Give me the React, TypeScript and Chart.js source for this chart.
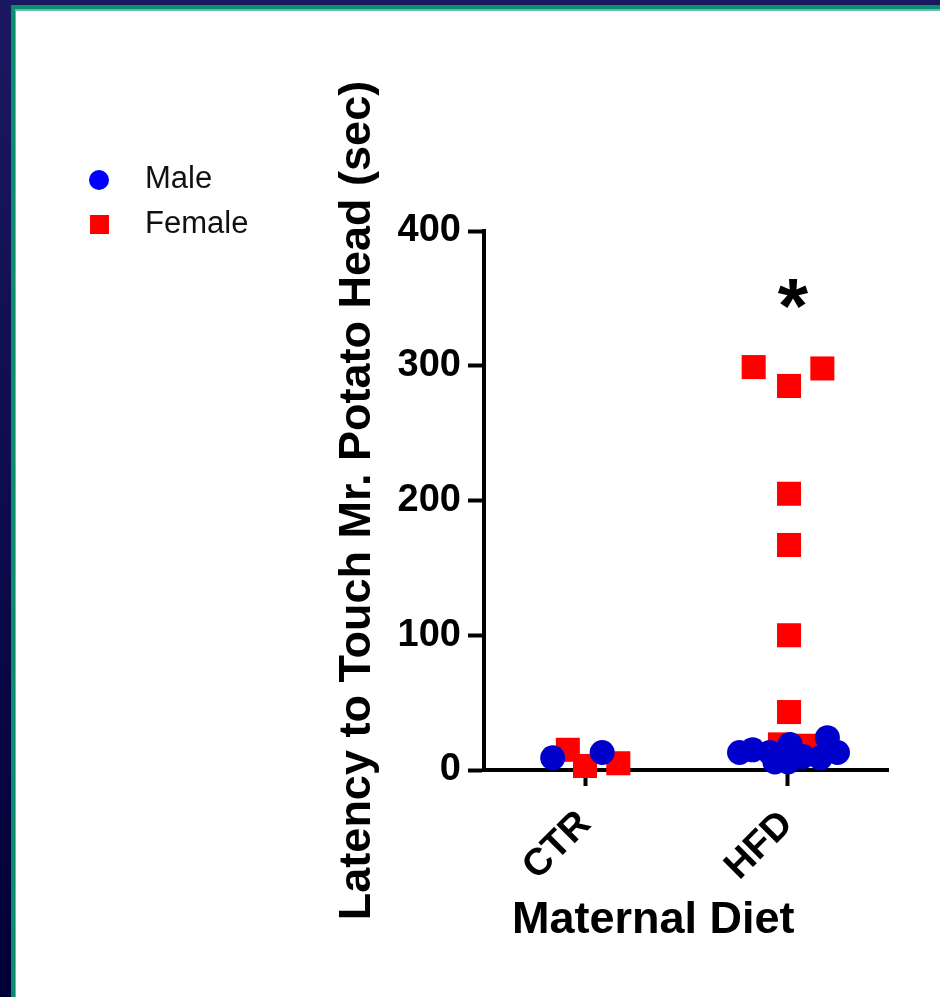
import React, { useEffect, useRef } from "react";
import { Chart, registerables } from "chart.js";

Chart.register(...registerables);

// ---- data ----
const categories = ["CTR", "HFD"];
const categoryPositions = [1, 3];
const yTicks = [0, 100, 200, 300, 400];

// Male points: category, horizontal jitter (in category units), latency (sec)
const maleCategory = ["CTR", "CTR", "HFD", "HFD", "HFD", "HFD", "HFD", "HFD", "HFD", "HFD", "HFD", "HFD"];
const maleJitter = [-0.32, 0.17, -0.47, -0.34, -0.17, -0.12, 0.03, 0.01, 0.16, 0.4, 0.5, 0.33];
const maleLatency = [9, 13, 13, 15, 13, 6, 19, 6, 10, 24, 13, 9];

// Female points
const femaleCategory = ["CTR", "CTR", "CTR", "HFD", "HFD", "HFD", "HFD", "HFD", "HFD", "HFD", "HFD", "HFD"];
const femaleJitter = [-0.17, 0.0, 0.33, -0.33, 0.02, 0.35, 0.02, 0.02, 0.02, 0.02, -0.07, 0.2];
const femaleLatency = [15, 3, 5, 299, 285, 298, 205, 167, 100, 43, 19, 18];

const legendLabels = ["Male", "Female"];
const seriesColors = ["#0000cd", "#ff0000"];
const legendColors = ["#0000ff", "#ff0000"];

const yTitle = "Latency to Touch Mr. Potato Head (sec)";
const xTitle = "Maternal Diet";
const significanceMark = "*";
const significanceCategory = "HFD";
const significanceValue = 351;

const FONT = "'Liberation Sans', Arial, Helvetica, sans-serif";

function toPoints(cats: string[], jit: number[], vals: number[]) {
  return vals.map((v, i) => ({
    x: categoryPositions[categories.indexOf(cats[i])] + jit[i],
    y: v,
  }));
}

const extrasPlugin = {
  id: "extras",
  afterDraw(chart: any) {
    const ctx = chart.ctx as CanvasRenderingContext2D;
    const xs = chart.scales.x;
    const ys = chart.scales.y;
    ctx.save();
    // x axis title
    ctx.fillStyle = "#000";
    ctx.font = `bold 45px ${FONT}`;
    ctx.textAlign = "left";
    ctx.textBaseline = "alphabetic";
    ctx.fillText(xTitle, 512, 933);
    // significance asterisk
    const ax = xs.getPixelForValue(categoryPositions[categories.indexOf(significanceCategory)]) + 6;
    const ay = ys.getPixelForValue(significanceValue);
    ctx.font = `bold 78px ${FONT}`;
    ctx.textAlign = "center";
    ctx.fillText(significanceMark, ax, ay + 36);
    // legend
    ctx.font = `31px ${FONT}`;
    ctx.textAlign = "left";
    ctx.fillStyle = legendColors[0];
    ctx.beginPath();
    ctx.arc(99, 180, 10, 0, Math.PI * 2);
    ctx.fill();
    ctx.fillStyle = legendColors[1];
    ctx.fillRect(90, 215, 19, 19);
    ctx.fillStyle = "#111";
    ctx.fillText(legendLabels[0], 145, 188);
    ctx.fillText(legendLabels[1], 145, 233);
    ctx.restore();
  },
};

export default function App() {
  const ref = useRef<HTMLCanvasElement | null>(null);

  useEffect(() => {
    if (!ref.current) return;
    const chart = new Chart(ref.current, {
      type: "scatter",
      data: {
        datasets: [
          {
            label: legendLabels[0],
            data: toPoints(maleCategory, maleJitter, maleLatency),
            pointStyle: "circle",
            pointRadius: 12.5,
            pointBackgroundColor: seriesColors[0],
            pointBorderWidth: 0,
            backgroundColor: seriesColors[0],
            clip: false,
          },
          {
            label: legendLabels[1],
            data: toPoints(femaleCategory, femaleJitter, femaleLatency),
            pointStyle: "rect",
            pointRadius: 17,
            pointBackgroundColor: seriesColors[1],
            pointBorderWidth: 0,
            backgroundColor: seriesColors[1],
            clip: false,
          },
        ],
      },
      options: {
        responsive: false,
        animation: false,
        events: [],
        layout: { padding: { left: 300, top: 231, right: 52, bottom: 0 } },
        plugins: { legend: { display: false }, tooltip: { enabled: false } },
        scales: {
          x: {
            type: "linear",
            min: 0,
            max: 4,
            afterFit: (s: any) => {
              s.height = 227;
            },
            afterBuildTicks: (s: any) => {
              s.ticks = categoryPositions.map((v) => ({ value: v }));
            },
            grid: {
              display: true,
              drawOnChartArea: false,
              drawTicks: true,
              tickLength: 16,
              tickWidth: 4,
              tickColor: "#000",
            },
            border: { display: true, color: "#000", width: 4 },
            ticks: {
              autoSkip: false,
              minRotation: 45,
              maxRotation: 45,
              padding: 16,
              color: "#000",
              font: { family: FONT, size: 38, weight: "bold" },
              callback: (v: any) => {
                const i = categoryPositions.indexOf(Number(v));
                return i >= 0 ? categories[i] : "";
              },
            },
          },
          y: {
            type: "linear",
            min: yTicks[0],
            max: yTicks[yTicks.length - 1],
            afterFit: (s: any) => {
              s.width = 184;
            },
            afterBuildTicks: (s: any) => {
              s.ticks = yTicks.map((v) => ({ value: v }));
            },
            grid: {
              display: true,
              drawOnChartArea: false,
              drawTicks: true,
              tickLength: 16,
              tickWidth: 4,
              tickColor: "#000",
            },
            border: { display: true, color: "#000", width: 4 },
            ticks: {
              padding: 7,
              color: "#000",
              font: { family: FONT, size: 38, weight: "bold" },
            },
            title: {
              display: true,
              text: yTitle,
              color: "#000",
              font: { family: FONT, size: 45, weight: "bold" },
              padding: { top: 31, bottom: 0 },
            },
          },
        },
      } as any,
      plugins: [extrasPlugin],
    });
    return () => chart.destroy();
  }, []);

  return (
    <div
      style={{
        position: "fixed",
        left: 0,
        top: 0,
        width: 940,
        height: 997,
        overflow: "hidden",
        background: "linear-gradient(#1b1862, #000038)",
      }}
    >
      <div style={{ position: "absolute", left: 11, top: 5, right: 0, bottom: 0, background: "#0b8c6d" }} />
      <div style={{ position: "absolute", left: 15, top: 9, right: 0, bottom: 0, background: "#5fc0a6" }} />
      <div style={{ position: "absolute", left: 16, top: 11, right: 0, bottom: 0, background: "#ffffff" }} />
      <canvas
        ref={ref}
        width={940}
        height={997}
        style={{ position: "absolute", left: 0, top: 0, width: 940, height: 997 }}
      />
    </div>
  );
}
